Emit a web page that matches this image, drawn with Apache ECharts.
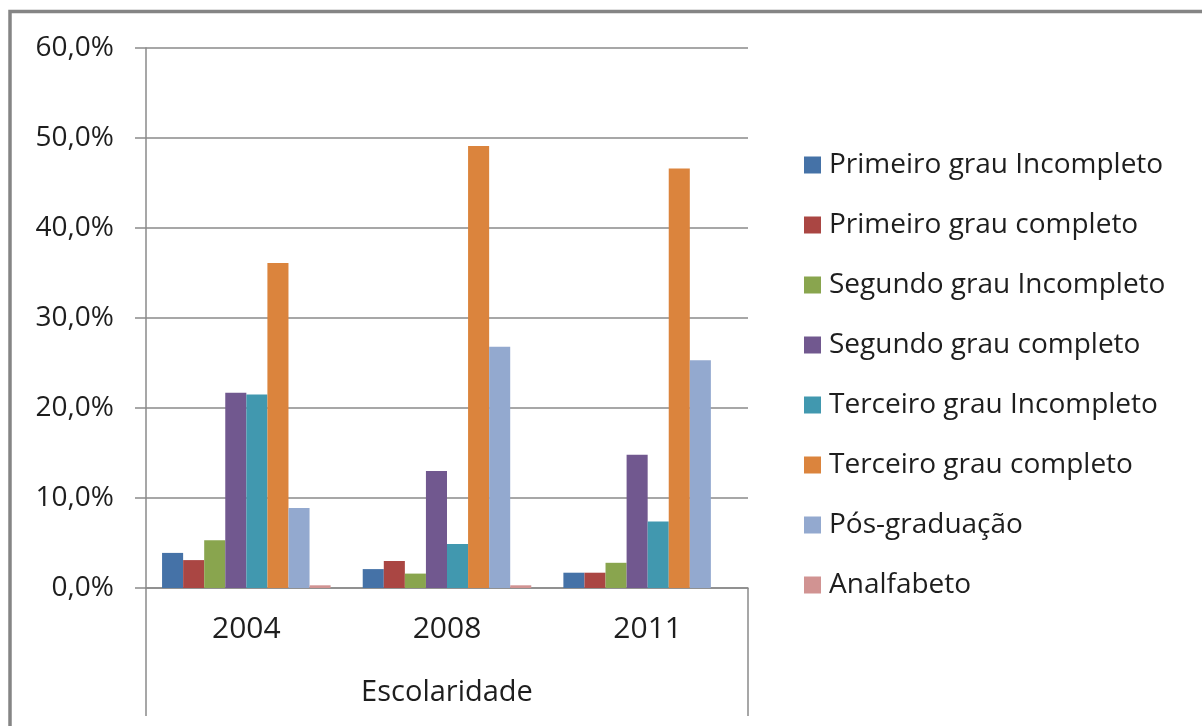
<!DOCTYPE html>
<html>
<head>
<meta charset="utf-8">
<script src="https://cdn.jsdelivr.net/npm/echarts@6/dist/echarts.min.js"></script>
<style>
  html, body { margin: 0; padding: 0; background: #fff; }
  #main { width: 1202px; height: 726px; }
</style>
</head>
<body>
<div id="main"></div>
<script>
// NOTE - data

const years = ['2004', '2008', '2011'];

const seriesNames = [
  'Primeiro grau Incompleto',
  'Primeiro grau completo',
  'Segundo grau Incompleto',
  'Segundo grau completo',
  'Terceiro grau Incompleto',
  'Terceiro grau completo',
  'Pós-graduação',
  'Analfabeto'
];

// values in %, one array per series (2004, 2008, 2011)
const primeiroIncompleto = [3.9, 2.1, 1.7];
const primeiroCompleto   = [3.1, 3.0, 1.7];
const segundoIncompleto  = [5.3, 1.6, 2.8];
const segundoCompleto    = [21.7, 13.0, 14.8];
const terceiroIncompleto = [21.5, 4.9, 7.4];
const terceiroCompleto   = [36.1, 49.1, 46.6];
const posGraduacao       = [8.9, 26.8, 25.3];
const analfabeto         = [0.3, 0.3, 0];

const allValues = [primeiroIncompleto, primeiroCompleto, segundoIncompleto, segundoCompleto,
  terceiroIncompleto, terceiroCompleto, posGraduacao, analfabeto];

const colors = ['#4572A7', '#AA4643', '#89A54E', '#71588F', '#4198AF', '#DB843D', '#93A9CF', '#D19392'];

const FONT = '"Open Sans", sans-serif';
const GRAY = '#8a8a8a';
const TEXT = '#1e1e1e';

// NOTE - chart

var myChart = echarts.init(document.getElementById('main'));

var option = {
  animation: false,
  color: colors,
  textStyle: { fontFamily: FONT },
  grid: { left: 146, top: 48, right: 454, bottom: 138 },
  legend: {
    orient: 'vertical',
    left: 799,
    top: 145,
    itemWidth: 17,
    itemHeight: 17,
    itemGap: 30,
    icon: 'rect',
    data: seriesNames,
    textStyle: { fontFamily: FONT, fontSize: 28, color: TEXT, lineHeight: 30, padding: [0, 0, 0, 3] }
  },
  xAxis: {
    type: 'category',
    data: years,
    name: 'Escolaridade',
    nameLocation: 'middle',
    nameGap: 90,
    nameTextStyle: { fontSize: 29, color: TEXT },
    axisLine: { lineStyle: { color: GRAY, width: 1.5 } },
    axisTick: { length: 64, lineStyle: { color: GRAY, width: 1.5 } },
    axisLabel: { fontSize: 30, color: TEXT, margin: 26 }
  },
  yAxis: {
    type: 'value',
    min: 0,
    max: 60,
    interval: 10,
    axisLine: { show: true, lineStyle: { color: GRAY, width: 1.5 } },
    axisTick: { show: true, length: 11, lineStyle: { color: GRAY, width: 1.5 } },
    axisLabel: {
      fontSize: 28,
      color: TEXT,
      margin: 32,
      formatter: v => v.toFixed(1).replace('.', ',') + '%'
    },
    splitLine: { lineStyle: { color: GRAY, width: 1.5 } }
  },
  series: seriesNames.map((name, i) => ({
    name: name,
    type: 'bar',
    data: allValues[i],
    barGap: '0%',
    barCategoryGap: '16%',
    itemStyle: { color: colors[i] }
  }))
};

myChart.setOption(option);

// outer ends of the two-level category axis, and the chart frame
var step = myChart.convertToPixel({ xAxisIndex: 0 }, 1) - myChart.convertToPixel({ xAxisIndex: 0 }, 0);
var leftX = myChart.convertToPixel({ xAxisIndex: 0 }, 0) - step / 2;
var rightX = myChart.convertToPixel({ xAxisIndex: 0 }, 2) + step / 2;
var zeroY = myChart.convertToPixel({ yAxisIndex: 0 }, 0);

myChart.setOption({
  graphic: [
    { type: 'line', shape: { x1: leftX, y1: zeroY, x2: leftX, y2: 716 }, style: { stroke: GRAY, lineWidth: 1.5 } },
    { type: 'line', shape: { x1: rightX, y1: zeroY, x2: rightX, y2: 716 }, style: { stroke: GRAY, lineWidth: 1.5 } },
    { type: 'rect', shape: { x: 10, y: 11.5, width: 1300, height: 800 }, style: { fill: 'none', stroke: '#858585', lineWidth: 3.5 } }
  ]
});
</script>
</body>
</html>
